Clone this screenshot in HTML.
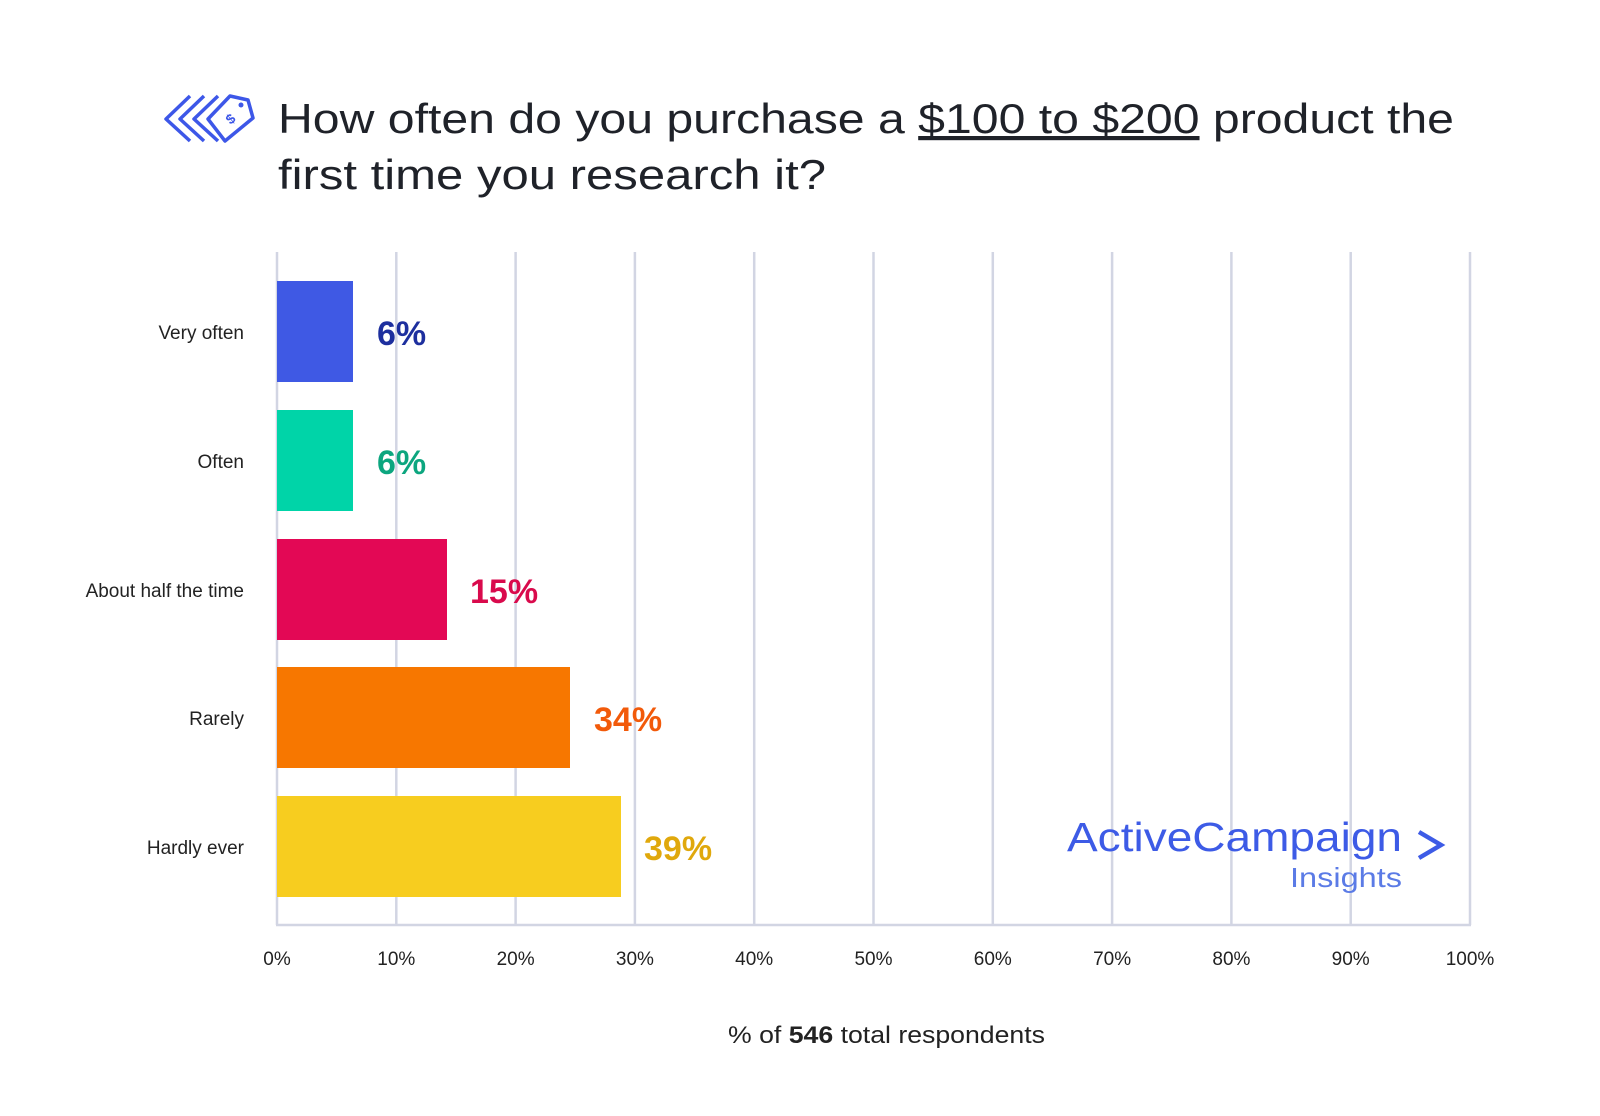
<!DOCTYPE html>
<html><head><meta charset="utf-8"><style>
html,body{margin:0;padding:0;background:#fff;}
svg{display:block;}
</style></head><body>
<svg width="1600" height="1116" viewBox="0 0 1600 1116" xmlns="http://www.w3.org/2000/svg" font-family="Liberation Sans, sans-serif">
<rect width="1600" height="1116" fill="#fff"/>
<!-- icon -->
<g fill="none" stroke="#3d57e8" stroke-width="3.5" stroke-linejoin="round">
<path d="M190 96 L166 119 L190 141"/>
<path d="M204 96 L180 119 L204 141"/>
<path d="M218 96 L194 119 L218 141"/>
<path d="M230 96 L248 100 L253 118 L225 141 L208 119 Z"/>
</g>
<circle cx="241" cy="105" r="2.5" fill="#3d57e8"/>
<text x="228" y="126" font-size="14" font-weight="bold" fill="#3d57e8" transform="rotate(-40 228 122)">$</text>
<!-- title -->
<text x="278" y="133" font-size="42" fill="#1f2229" textLength="1176" lengthAdjust="spacingAndGlyphs">How often do you purchase a <tspan text-decoration="underline">$100 to $200</tspan> product the</text>
<text x="278" y="189" font-size="42" fill="#1f2229" textLength="548" lengthAdjust="spacingAndGlyphs">first time you research it?</text>
<!-- grid -->
<g stroke="#d2d5e3" stroke-width="2.5">
<line x1="277" y1="252" x2="277" y2="925"/>
<line x1="396.3" y1="252" x2="396.3" y2="925"/>
<line x1="515.6" y1="252" x2="515.6" y2="925"/>
<line x1="634.9" y1="252" x2="634.9" y2="925"/>
<line x1="754.2" y1="252" x2="754.2" y2="925"/>
<line x1="873.5" y1="252" x2="873.5" y2="925"/>
<line x1="992.8" y1="252" x2="992.8" y2="925"/>
<line x1="1112.1" y1="252" x2="1112.1" y2="925"/>
<line x1="1231.4" y1="252" x2="1231.4" y2="925"/>
<line x1="1350.7" y1="252" x2="1350.7" y2="925"/>
<line x1="1470" y1="252" x2="1470" y2="925"/>
<line x1="276" y1="925" x2="1471" y2="925"/>
</g>
<!-- bars -->
<rect x="277" y="281" width="76" height="101" fill="#3f59e4"/>
<rect x="277" y="410" width="76" height="101" fill="#00d4a8"/>
<rect x="277" y="539" width="170" height="101" fill="#e30855"/>
<rect x="277" y="667" width="293" height="101" fill="#f77700"/>
<rect x="277" y="796" width="344" height="101" fill="#f7cd1f"/>
<!-- value labels -->
<g font-size="34" font-weight="bold">
<text x="377" y="345" fill="#1d2f9e">6%</text>
<text x="377" y="474" fill="#0ca67f">6%</text>
<text x="470" y="603" fill="#d90a4c">15%</text>
<text x="594" y="731" fill="#f25a0a">34%</text>
<text x="644" y="860" fill="#e0a80c">39%</text>
</g>
<!-- category labels -->
<g font-size="19" fill="#222" text-anchor="end">
<text x="244" y="339">Very often</text>
<text x="244" y="468">Often</text>
<text x="244" y="597">About half the time</text>
<text x="244" y="725">Rarely</text>
<text x="244" y="854">Hardly ever</text>
</g>
<!-- ticks -->
<g font-size="19" fill="#222" text-anchor="middle">
<text x="277" y="965">0%</text>
<text x="396.3" y="965">10%</text>
<text x="515.6" y="965">20%</text>
<text x="634.9" y="965">30%</text>
<text x="754.2" y="965">40%</text>
<text x="873.5" y="965">50%</text>
<text x="992.8" y="965">60%</text>
<text x="1112.1" y="965">70%</text>
<text x="1231.4" y="965">80%</text>
<text x="1350.7" y="965">90%</text>
<text x="1470" y="965">100%</text>
</g>
<text x="728" y="1043" font-size="24" fill="#222" textLength="317" lengthAdjust="spacingAndGlyphs">% of <tspan font-weight="bold">546</tspan> total respondents</text>
<!-- logo -->
<text x="1067" y="851" font-size="41" fill="#3d5be6" textLength="335" lengthAdjust="spacingAndGlyphs">ActiveCampaign</text>
<path d="M1419 832 L1441 845 L1419 858" fill="none" stroke="#3d5be6" stroke-width="4.5"/>
<text x="1290" y="887" font-size="28" fill="#5b7be6" textLength="112" lengthAdjust="spacingAndGlyphs">Insights</text>
</svg>
</body></html>
